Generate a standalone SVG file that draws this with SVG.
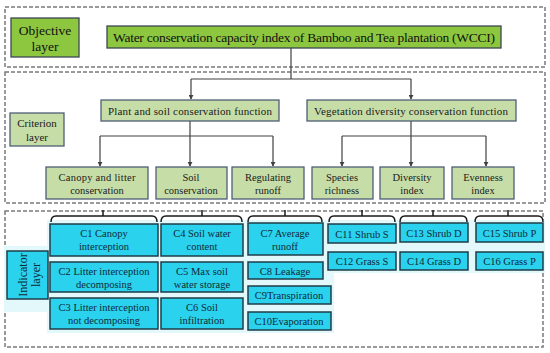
<svg xmlns="http://www.w3.org/2000/svg" width="550" height="353" viewBox="0 0 550 353" font-family="'Liberation Serif', 'DejaVu Serif', serif">
<defs>
<marker id="ah" viewBox="0 0 6 6" refX="5" refY="3" markerWidth="5" markerHeight="5" orient="auto" markerUnits="userSpaceOnUse">
<path d="M0,0 L6,3 L0,6 z" fill="#404040"/>
</marker>
<style>
text{text-anchor:middle;}
.frame{fill:none;stroke:#7a7a7a;stroke-width:1.5;stroke-dasharray:4 2;}
.g1{fill:#8dc63f;stroke:#3d4654;stroke-width:1.3;}
.g2{fill:#c7dda7;stroke:#4e5f78;stroke-width:1.3;}
.cy{fill:#2ad2ee;stroke:#1f3d48;stroke-width:1.5;}
.glow{fill:#e2f8fb;}
.t1{font-size:13.5px;fill:#111;}
.t2{font-size:11px;fill:#1a1a1a;}
.t3{font-size:10.5px;fill:#1a1a1a;}
.t4{font-size:10.5px;fill:#0e2a36;}
.t5{font-size:12px;fill:#0e2a36;}
.con{fill:none;stroke:#404040;stroke-width:1.2;}
.br{fill:none;stroke:#1a1a1a;stroke-width:1.5;}
</style>
</defs>
<rect width="550" height="353" fill="#ffffff"/>

<g id="frames">
<rect class="frame" x="5" y="7" width="540" height="60"/>
<rect class="frame" x="5" y="72" width="540" height="131"/>
<rect class="frame" x="5" y="211" width="538" height="136"/>
</g>

<g id="backdrop">
<rect class="glow" x="4" y="246" width="48" height="66"/>
<rect class="glow" x="47" y="220" width="200" height="113"/>
<rect class="glow" x="245" y="220" width="89" height="113"/>
<rect class="glow" x="325" y="220" width="220" height="53"/>
</g>

<g id="connectors">
<path class="con" d="M291,48 V79 M191,79 H411"/>
<path class="con" d="M191,79 V99" marker-end="url(#ah)"/>
<path class="con" d="M411,79 V99" marker-end="url(#ah)"/>
<path class="con" d="M190,121 V166" marker-end="url(#ah)"/>
<path class="con" d="M100,136 H273"/>
<path class="con" d="M100,136 V166" marker-end="url(#ah)"/>
<path class="con" d="M273,136 V166" marker-end="url(#ah)"/>
<path class="con" d="M411,121 V166" marker-end="url(#ah)"/>
<path class="con" d="M342,136 H486"/>
<path class="con" d="M342,136 V166" marker-end="url(#ah)"/>
<path class="con" d="M486,136 V166" marker-end="url(#ah)"/>
<path class="br" d="M51,222 Q51,216 56,216 H152 Q157,216 157,222 M103,216 V210"/>
<path class="br" d="M161,222 Q161,216 166,216 H237 Q242,216 242,222 M202,216 V210"/>
<path class="br" d="M248,222 Q248,216 253,216 H317 Q322,216 322,222 M285,216 V210"/>
<path class="br" d="M329,222 Q329,216 334,216 H390 Q395,216 395,222 M362,216 V210"/>
<path class="br" d="M400,222 Q400,216 405,216 H462 Q467,216 467,222 M433,216 V210"/>
<path class="br" d="M475,222 Q475,216 480,216 H538 Q543,216 543,222 M508,216 V210"/>
</g>

<g id="objective-layer">
<rect class="g1" x="11" y="18" width="68" height="39"/>
<text class="t1" x="45" y="35">Objective</text>
<text class="t1" x="45" y="51">layer</text>
</g>
<g id="wcci">
<rect class="g1" x="107" y="26" width="394" height="22"/>
<text class="t1" x="304" y="42" textLength="382" lengthAdjust="spacing">Water conservation capacity index of Bamboo and Tea plantation (WCCI)</text>
</g>

<g id="criterion-layer">
<rect class="g2" x="10" y="113" width="54" height="33"/>
<text class="t2" x="37" y="127">Criterion</text>
<text class="t2" x="37" y="141">layer</text>
</g>
<g id="plant-soil">
<rect class="g2" x="101" y="100" width="178" height="21"/>
<text class="t2" x="190" y="115" textLength="164" lengthAdjust="spacing">Plant and soil conservation function</text>
</g>
<g id="vegetation">
<rect class="g2" x="307" y="100" width="209" height="21"/>
<text class="t2" x="411" y="115" textLength="194" lengthAdjust="spacing">Vegetation diversity conservation function</text>
</g>

<g id="canopy-litter">
<rect class="g2" x="46" y="167" width="102" height="32"/>
<text class="t3" x="97" y="181" textLength="77" lengthAdjust="spacing">Canopy and litter</text>
<text class="t3" x="97" y="194">conservation</text>
</g>
<g id="soil-conservation">
<rect class="g2" x="156" y="167" width="71" height="32"/>
<text class="t3" x="191" y="181">Soil</text>
<text class="t3" x="191" y="194">conservation</text>
</g>
<g id="regulating-runoff">
<rect class="g2" x="232" y="167" width="72" height="32"/>
<text class="t3" x="268" y="181">Regulating</text>
<text class="t3" x="268" y="194">runoff</text>
</g>
<g id="species-richness">
<rect class="g2" x="312" y="167" width="61" height="32"/>
<text class="t3" x="342" y="181">Species</text>
<text class="t3" x="342" y="194">richness</text>
</g>
<g id="diversity-index">
<rect class="g2" x="380" y="167" width="64" height="32"/>
<text class="t3" x="412" y="181">Diversity</text>
<text class="t3" x="412" y="194">index</text>
</g>
<g id="evenness-index">
<rect class="g2" x="452" y="167" width="62" height="32"/>
<text class="t3" x="483" y="181">Evenness</text>
<text class="t3" x="483" y="194">index</text>
</g>

<g id="indicator-layer">
<rect class="cy" x="7" y="251" width="41" height="48"/>
<g transform="translate(27.5,275) rotate(-90)">
<text class="t5" x="0" y="-1">Indicator</text>
<text class="t5" x="0" y="12">layer</text>
</g>
</g>

<g id="c1"><rect class="cy" x="50" y="224" width="108" height="32"/>
<text class="t4" x="104" y="237">C1 Canopy</text><text class="t4" x="104" y="250">interception</text></g>
<g id="c2"><rect class="cy" x="50" y="262" width="108" height="30"/>
<text class="t4" x="104" y="275">C2 Litter interception</text><text class="t4" x="104" y="288">decomposing</text></g>
<g id="c3"><rect class="cy" x="50" y="298" width="108" height="31"/>
<text class="t4" x="104" y="311">C3 Litter interception</text><text class="t4" x="104" y="324">not decomposing</text></g>

<g id="c4"><rect class="cy" x="161" y="224" width="82" height="32"/>
<text class="t4" x="202" y="237">C4 Soil water</text><text class="t4" x="202" y="250">content</text></g>
<g id="c5"><rect class="cy" x="161" y="262" width="82" height="30"/>
<text class="t4" x="202" y="275">C5 Max soil</text><text class="t4" x="202" y="288">water storage</text></g>
<g id="c6"><rect class="cy" x="161" y="298" width="82" height="31"/>
<text class="t4" x="202" y="311">C6 Soil</text><text class="t4" x="202" y="324">infiltration</text></g>

<g id="c7"><rect class="cy" x="248" y="223" width="75" height="32"/>
<text class="t4" x="285" y="237">C7 Average</text><text class="t4" x="285" y="250">runoff</text></g>
<g id="c8"><rect class="cy" x="248" y="262" width="75" height="17"/>
<text class="t4" x="285" y="274.5">C8 Leakage</text></g>
<g id="c9"><rect class="cy" x="248" y="286" width="83" height="18"/>
<text class="t4" x="289" y="299">C9Transpiration</text></g>
<g id="c10"><rect class="cy" x="248" y="312" width="83" height="18"/>
<text class="t4" x="289" y="325">C10Evaporation</text></g>

<g id="c11"><rect class="cy" x="328" y="224" width="68" height="19"/>
<text class="t4" x="362" y="237.5">C11 Shrub S</text></g>
<g id="c12"><rect class="cy" x="328" y="252" width="68" height="18"/>
<text class="t4" x="362" y="265">C12 Grass S</text></g>
<g id="c13"><rect class="cy" x="400" y="223" width="68" height="19"/>
<text class="t4" x="434" y="236.5">C13 Shrub D</text></g>
<g id="c14"><rect class="cy" x="400" y="252" width="68" height="18"/>
<text class="t4" x="434" y="265">C14 Grass D</text></g>
<g id="c15"><rect class="cy" x="476" y="223" width="67" height="19"/>
<text class="t4" x="509.5" y="236.5">C15 Shrub P</text></g>
<g id="c16"><rect class="cy" x="476" y="252" width="67" height="18"/>
<text class="t4" x="509.5" y="265">C16 Grass P</text></g>
</svg>
